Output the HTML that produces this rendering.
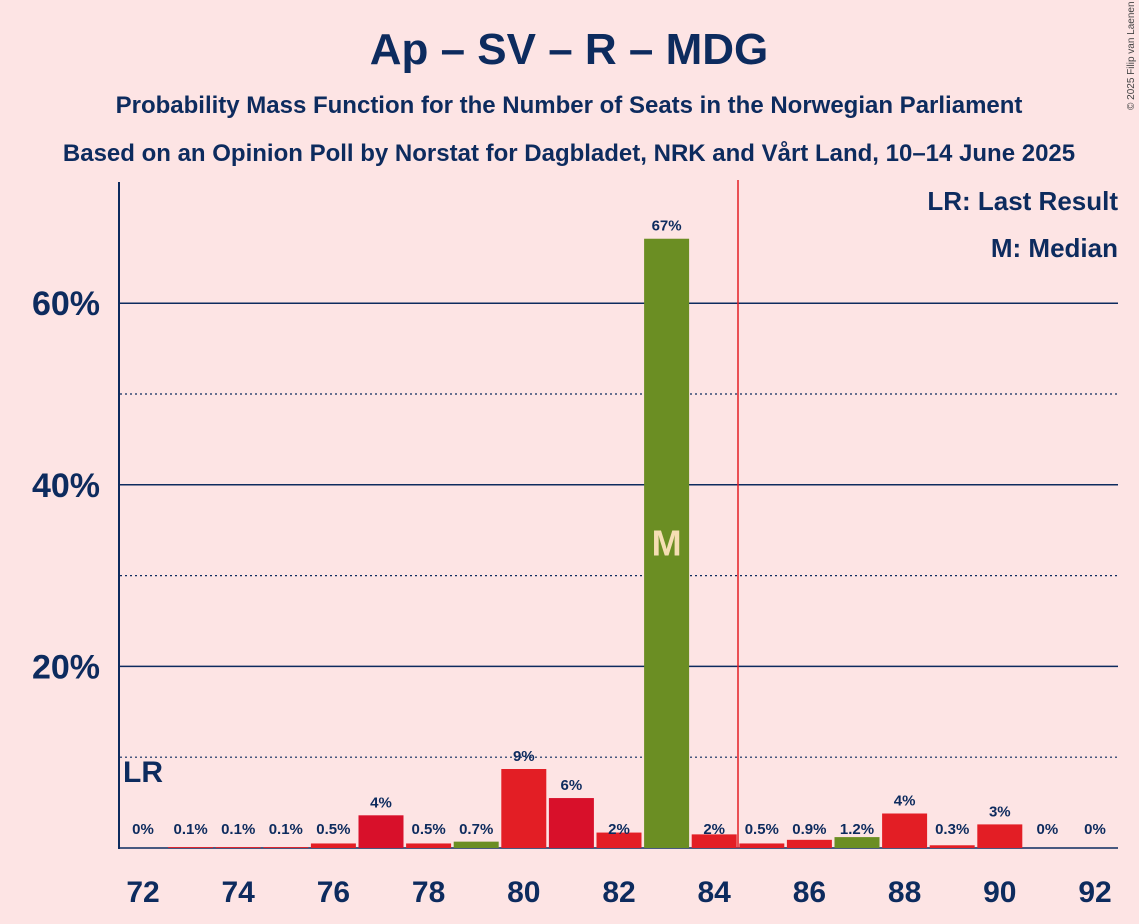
<!DOCTYPE html>
<html><head><meta charset="utf-8"><style>
body{margin:0;background:#fde4e4;}
svg{display:block;font-family:"Liberation Sans",sans-serif;}
</style></head><body>
<svg id="c" width="1139" height="924">
<rect width="1139" height="924" fill="#fde4e4"/>
<text x="569" y="64" text-anchor="middle" font-size="44" font-weight="bold" fill="#0d2b5e">Ap – SV – R – MDG</text>
<text x="569" y="113" text-anchor="middle" font-size="24" font-weight="bold" fill="#0d2b5e">Probability Mass Function for the Number of Seats in the Norwegian Parliament</text>
<text x="569" y="161" text-anchor="middle" font-size="24" font-weight="bold" fill="#0d2b5e">Based on an Opinion Poll by Norstat for Dagbladet, NRK and Vårt Land, 10–14 June 2025</text>
<text x="1134" y="110" font-size="10" fill="#444" transform="rotate(-90 1134 110)">© 2025 Filip van Laenen</text>
<g id="grid"></g><g id="bars"></g><g id="labels"></g>
<text x="1118" y="210" text-anchor="end" font-size="26" font-weight="bold" fill="#0d2b5e">LR: Last Result</text>
<text x="1118" y="257" text-anchor="end" font-size="26" font-weight="bold" fill="#0d2b5e">M: Median</text>
</svg>
<script>
const seats=[72,73,74,75,76,77,78,79,80,81,82,83,84,85,86,87,88,89,90,91,92];
const probs=[0,0.1,0.1,0.1,0.5,3.6,0.5,0.7,8.7,5.5,1.7,67.1,1.5,0.5,0.9,1.2,3.8,0.3,2.6,0,0];
const valueLabels=["0%","0.1%","0.1%","0.1%","0.5%","4%","0.5%","0.7%","9%","6%","2%","67%","2%","0.5%","0.9%","1.2%","4%","0.3%","3%","0%","0%"];
const yTicks=[10,20,30,40,50,60];
const median=83, lastResult=84.5, lrLabelSeat=72;
const NS="http://www.w3.org/2000/svg";
const x=s=>143+(s-72)*47.6;
const y=v=>848-v*9.08;
function mk(t,a,p){const e=document.createElementNS(NS,t);for(const k in a)e.setAttribute(k,a[k]);p.appendChild(e);return e;}
const g=document.getElementById('grid'),b=document.getElementById('bars'),l=document.getElementById('labels');
yTicks.forEach(v=>{
 const solid=v%20===0;
 const ln=mk('line',{x1:120,x2:1118,y1:y(v),y2:y(v),stroke:'#0d2b5e','stroke-width':solid?1.5:1.2,'stroke-dasharray':solid?'':'2,3'},g);
 
 
 if(solid){const t=mk('text',{x:100,y:y(v)+12,'text-anchor':'end','font-size':34,'font-weight':'bold',fill:'#0d2b5e'},g);t.textContent=v+'%';
 
 }
});
const ax=mk('line',{x1:119,x2:119,y1:182,y2:849,stroke:'#0d2b5e','stroke-width':2},g);


const xa=mk('line',{x1:119,x2:1118,y1:848,y2:848,stroke:'#0d2b5e','stroke-width':1.5},g);


seats.forEach((s,i)=>{
 const p=probs[i];
 const green=(s===79||s===83||s===87);
 const dark=(s===77||s===81);
 if(p>0){const r=mk('rect',{x:x(s)-22.5,y:y(p),width:45,height:848-y(p),fill:green?'#6b8e23':(dark?'#d8102a':'#e31e25')},b);
 
 }
 // white background for label on gridline
 const t=mk('text',{x:x(s),y:(p>2?y(p)-8:834),'text-anchor':'middle','font-size':15,'font-weight':'bold',fill:'#0d2b5e'},l);
 t.textContent=valueLabels[i];
 
 
 if(s%2===0){const xt=mk('text',{x:x(s),y:902,'text-anchor':'middle','font-size':30,'font-weight':'bold',fill:'#0d2b5e'},l);xt.textContent=s;
 
 }
});
const mi=seats.indexOf(median);
const mt=mk('text',{x:x(median),y:y(probs[mi]/2)+12,'text-anchor':'middle','font-size':36,'font-weight':'bold',fill:'#f5deb3'},l);
mt.textContent='M';


const lr=mk('line',{x1:x(lastResult),x2:x(lastResult),y1:180,y2:848,stroke:'#e31e25','stroke-width':1.5},l);


const lt=mk('text',{x:x(lrLabelSeat)-20,y:782,'font-size':30,'font-weight':'bold',fill:'#0d2b5e'},l);
lt.textContent='LR';


</script>
</body></html>
